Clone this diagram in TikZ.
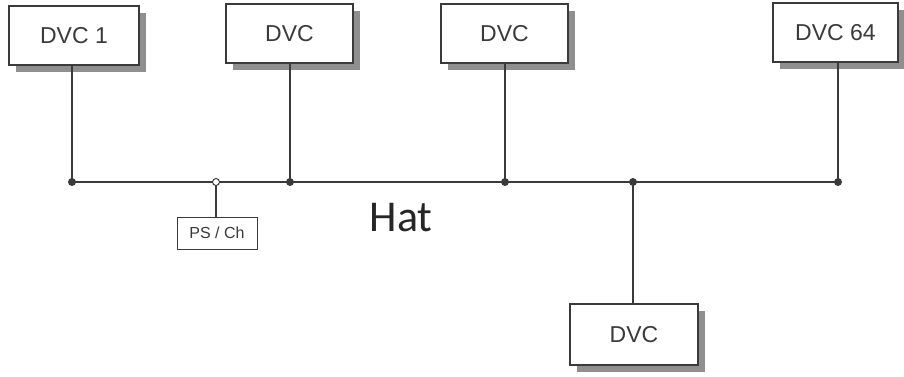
\documentclass[tikz,border=0pt]{standalone}
\usepackage{fontspec}
\setmainfont{Liberation Sans}
\newfontfamily\hatfont{Carlito}
\usetikzlibrary{shadows,patterns}
\definecolor{ink}{HTML}{3A3A3A}
\definecolor{shade}{HTML}{8F8F8F}
\tikzset{
  dvcbox/.style={draw=ink, line width=1.3pt, fill=white, text=ink,
    font=\fontsize{23}{23}\selectfont, inner sep=0pt,
    drop shadow={shadow xshift=7pt, shadow yshift=-7pt, fill=shade, opacity=1}},
  psbox/.style={draw=ink, line width=1pt, fill=white, text=ink,
    minimum width=80pt, minimum height=32pt, inner sep=0pt,
    font=\fontsize{16}{16}\selectfont},
  wire/.style={draw=ink, line width=1.5pt},
  junction/.style={circle, fill=ink, inner sep=0pt, minimum size=8pt},
  openjunction/.style={circle, draw=ink, fill=white, line width=1pt, inner sep=0pt, minimum size=7pt}
}
\begin{document}
\begin{tikzpicture}[x=1pt,y=-1pt]
\useasboundingbox (0,0) rectangle (904,376);
% boxes
\node[dvcbox, minimum width=130pt, minimum height=59pt] (dvc1) at (74,35.5) {DVC 1};
\node[dvcbox, minimum width=127pt, minimum height=59pt] (dvc2) at (289.5,33.5) {DVC};
\node[dvcbox, minimum width=127pt, minimum height=59pt] (dvc3) at (504.5,33.5) {DVC};
\node[dvcbox, minimum width=125pt, minimum height=59pt] (dvc64) at (835.5,32.5) {DVC 64};
\node[dvcbox, minimum width=128pt, minimum height=61pt] (dvc5) at (634,334.5) {DVC};
\node[psbox] (ps) at (217,233) {PS / Ch};
% bus junction points
\coordinate (j1) at (72,182);
\coordinate (jp) at (216,182);
\coordinate (j2) at (290,182);
\coordinate (j3) at (505,182);
\coordinate (j5) at (633,182);
\coordinate (j6) at (838,182);
% wires
\draw[wire] (j1) -- (j6);
\draw[wire] (j1) -- (j1 |- dvc1.south);
\draw[wire] (j2) -- (j2 |- dvc2.south);
\draw[wire] (j3) -- (j3 |- dvc3.south);
\draw[wire] (j6) -- (j6 |- dvc64.south);
\draw[wire] (j5) -- (j5 |- dvc5.north);
\draw[wire] (jp) -- (jp |- ps.north);
% junction dots
\node[junction] (d1) at (j1) {};
\node[junction] (d2) at (j2) {};
\node[junction] (d3) at (j3) {};
\node[junction] (d5) at (j5) {};
\node[junction] (d6) at (j6) {};
\node[openjunction] (dp) at (jp) {};
% label
\node[text=black!85, font=\hatfont\fontsize{44}{44}\selectfont] (hat) at (401,218) {Hat};
\end{tikzpicture}
\end{document}
